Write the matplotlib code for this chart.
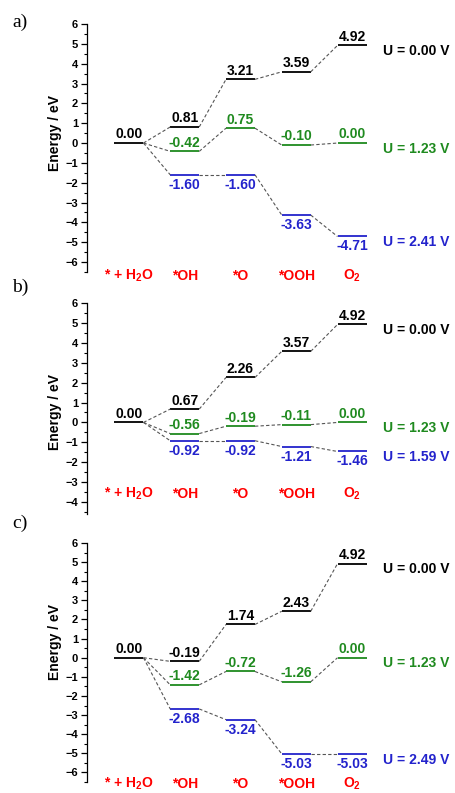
import matplotlib
matplotlib.use("Agg")
import matplotlib.pyplot as plt
import matplotlib.transforms as mtransforms
from matplotlib.ticker import MultipleLocator

plt.rcParams['font.family'] = ['Liberation Sans', 'DejaVu Sans']
plt.rcParams['mathtext.fontset'] = 'custom'
plt.rcParams['mathtext.rm'] = 'Liberation Sans:bold'
plt.rcParams['mathtext.bf'] = 'Liberation Sans:bold'

# ---- data ----
steps = ['* + H$_\\mathbf{2}$O', '*OH', '*O', '*OOH', 'O$_\\mathbf{2}$']

a_u0 = [0.00, 0.81, 3.21, 3.59, 4.92]
a_u1 = [0.00, -0.42, 0.75, -0.10, 0.00]
a_u2 = [0.00, -1.60, -1.60, -3.63, -4.71]
a_pot = ['U = 0.00 V', 'U = 1.23 V', 'U = 2.41 V']

b_u0 = [0.00, 0.67, 2.26, 3.57, 4.92]
b_u1 = [0.00, -0.56, -0.19, -0.11, 0.00]
b_u2 = [0.00, -0.92, -0.92, -1.21, -1.46]
b_pot = ['U = 0.00 V', 'U = 1.23 V', 'U = 1.59 V']

c_u0 = [0.00, -0.19, 1.74, 2.43, 4.92]
c_u1 = [0.00, -1.42, -0.72, -1.26, 0.00]
c_u2 = [0.00, -2.68, -3.24, -5.03, -5.03]
c_pot = ['U = 0.00 V', 'U = 1.23 V', 'U = 2.49 V']

colors = ['black', '#1f8a1f', '#2323cc']

W, H = 456, 793
fig = plt.figure(figsize=(W / 100, H / 100), dpi=100)

# panel boxes in pixels: top, bottom, ymin, category label y, ylabel y, letter y
panels = [
    ('a)', [a_u0, a_u1, a_u2], a_pot, 24, 272, -6.5, -6.68, 0.5, 22),
    ('b)', [b_u0, b_u1, b_u2], b_pot, 303, 514, -4.6, -3.6, 0.5, 287),
    ('c)', [c_u0, c_u1, c_u2], c_pot, 543, 782, -6.5, -6.6, 0.8, 523),
]

left_px = 87
hw = 0.26  # half width of an energy level

for letter, series, pots, top, bot, ymin, lab_y, ylab_y, let_y in panels:
    ax = fig.add_axes([left_px / W, 1 - bot / H, 1 - left_px / W, (bot - top) / H])
    ax.set_xlim(-0.753, 5.865)
    ax.set_ylim(ymin, 6)
    for s in ['top', 'right', 'bottom']:
        ax.spines[s].set_visible(False)
    ax.spines['left'].set_linewidth(0.9)
    ax.set_xticks([])
    ax.yaxis.set_major_locator(MultipleLocator(1))
    ax.yaxis.set_minor_locator(MultipleLocator(0.5))
    ax.tick_params(axis='y', which='major', length=4, width=0.9, pad=2.5,
                   labelsize=8)
    ax.tick_params(axis='y', which='minor', length=2, width=0.8)
    for t in ax.get_yticklabels():
        t.set_fontweight('bold')
    ax.set_ylabel('Energy / eV', fontsize=10, fontweight='bold')
    trans = mtransforms.blended_transform_factory(ax.transAxes, ax.transData)
    ax.yaxis.set_label_coords(-0.068, ylab_y, transform=trans)

    for k, vals in enumerate(series):
        col = colors[k]
        for i, v in enumerate(vals):
            if i == 0 and k > 0:
                continue
            ax.plot([i - hw, i + hw], [v, v], color=col, lw=1.3,
                    solid_capstyle='butt')
            if k == 2:
                ax.text(i, v - 0.15, '%.2f' % v, ha='center', va='top',
                        color=col, fontsize=10, fontweight='bold')
            else:
                ax.text(i, v + 0.08, '%.2f' % v, ha='center', va='bottom',
                        color=col, fontsize=10, fontweight='bold')
        for i in range(len(vals) - 1):
            ax.plot([i + hw, i + 1 - hw], [vals[i], vals[i + 1]],
                    color='#555555', lw=0.8, ls=(0, (3, 2)))
        ax.text(4.556, vals[-1] - 0.3, pots[k], ha='left', va='center',
                color=col, fontsize=10, fontweight='bold')

    for i, name in enumerate(steps):
        ax.text(i, lab_y, name, ha='center', va='center', color='#ff0000',
                fontsize=10, fontweight='bold', clip_on=False)

    fig.text(12 / W, 1 - let_y / H, letter, ha='left', va='center',
             fontsize=14, family='Liberation Serif')

fig.savefig('out.png', dpi=100)
